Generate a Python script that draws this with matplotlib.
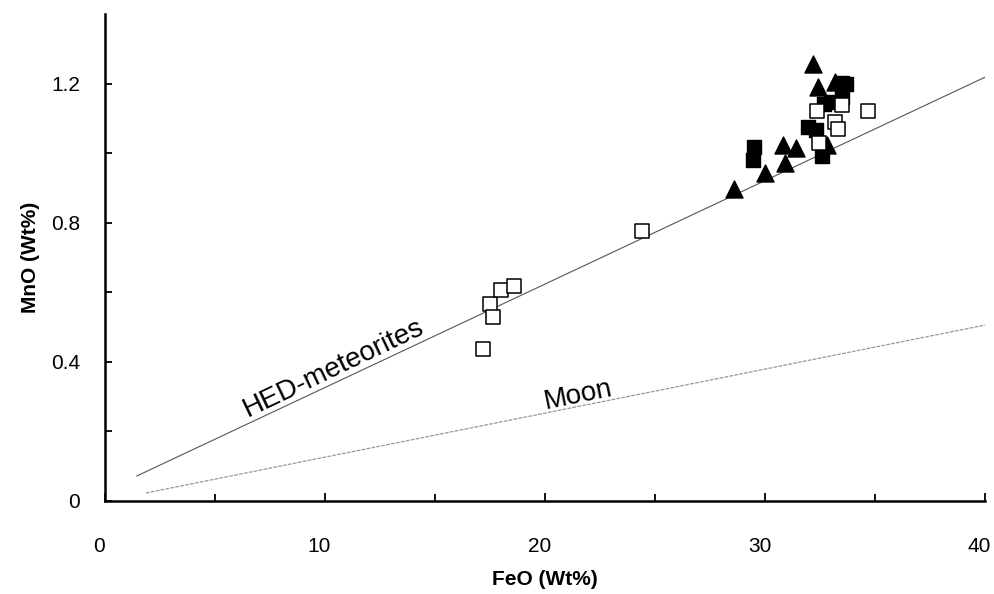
import numpy as np
import matplotlib.pyplot as plt
import matplotlib.transforms as mtransforms

plt.rcParams['font.family'] = ['Liberation Sans', 'DejaVu Sans']

# open squares
open_feo = [17.2, 17.5, 17.65, 18.0, 18.6, 24.4, 32.35, 33.5, 34.7, 33.2, 33.3, 32.45]
open_mno = [0.437, 0.567, 0.53, 0.607, 0.619, 0.777, 1.122, 1.14, 1.122, 1.091, 1.07, 1.03]

# filled squares
sq_feo = [29.5, 29.45, 32.6, 31.95, 32.3, 32.7, 33.5, 33.7, 33.5, 33.0]
sq_mno = [1.019, 0.981, 0.993, 1.076, 1.067, 1.142, 1.203, 1.2, 1.163, 1.148]

# filled triangles
tri_feo = [28.6, 30.0, 30.8, 30.9, 31.4, 32.2, 32.4, 33.2, 32.8]
tri_mno = [0.898, 0.944, 1.024, 0.973, 1.016, 1.258, 1.19, 1.206, 1.024]

# trend lines (start/end)
hed_x = [1.45, 40.0]
hed_y = [0.072, 1.219]
moon_x = [1.86, 40.0]
moon_y = [0.023, 0.506]

fig = plt.figure(figsize=(9.95, 5.94), dpi=100)
ax = fig.add_axes([0.1055, 0.1566, 0.8845, 0.8194])

ax.plot(hed_x, hed_y, color='#555555', lw=0.8)
ax.plot(moon_x, moon_y, color='#999999', lw=0.9, ls=(0, (3, 1)))

ax.scatter(sq_feo, sq_mno, marker='s', s=115, color='black', zorder=3)
ax.scatter(tri_feo, tri_mno, marker='^', s=150, color='black', zorder=3)
ax.scatter(open_feo, open_mno, marker='s', s=115, facecolor='white',
           edgecolor='black', linewidth=1.1, zorder=4)

ax.text(10.4, 0.383, 'HED-meteorites', fontsize=20, rotation=25.5,
        ha='center', va='center')
ax.text(21.5, 0.305, 'Moon', fontsize=20, rotation=11.5,
        ha='center', va='center')

ax.set_xlim(0, 40)
ax.set_ylim(0, 1.4)
ax.set_xticks([0, 10, 20, 30, 40])
ax.set_xticks([5, 15, 25, 35], minor=True)
ax.set_yticks([0, 0.4, 0.8, 1.2])
ax.set_yticklabels(['0', '0.4', '0.8', '1.2'])
ax.set_yticks([0.2, 0.6, 1.0], minor=True)
ax.tick_params(axis='x', which='both', direction='in', length=6, width=1.3,
               pad=26, labelsize=15)
ax.tick_params(axis='y', which='both', direction='in', length=5, width=1.3,
               pad=18, labelsize=15)
ax.tick_params(which='minor', length=5)

# nudge x tick labels a little left so "40" stays inside the figure
shift = mtransforms.ScaledTranslation(-4 / 72, 0, fig.dpi_scale_trans)
for lab in ax.get_xticklabels():
    lab.set_transform(lab.get_transform() + shift)

for s in ['top', 'right']:
    ax.spines[s].set_visible(False)
for s in ['left', 'bottom']:
    ax.spines[s].set_linewidth(1.8)

ax.set_xlabel('FeO (Wt%)', fontsize=15, fontweight='bold', labelpad=10)
ax.set_ylabel('MnO (Wt%)', fontsize=15, fontweight='bold', labelpad=8)

fig.savefig('out.png', dpi=100)
